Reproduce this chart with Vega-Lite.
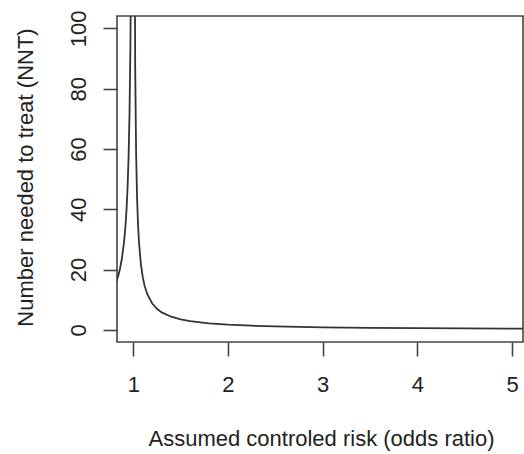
{
  "$schema": "https://vega.github.io/schema/vega-lite/v6.json",
  "autosize": "none",
  "width": 406,
  "height": 326,
  "padding": {"left": 117, "top": 16, "right": 1, "bottom": 112},
  "background": "white",
  "config": {
    "font": "Liberation Sans",
    "view": {"stroke": "#444", "strokeWidth": 1.6},
    "axis": {
      "grid": false,
      "domain": false,
      "tickColor": "#444",
      "tickWidth": 1.6,
      "tickSize": 14,
      "labelFont": "Liberation Sans",
      "labelFontSize": 22,
      "labelColor": "#222",
      "titleFont": "Liberation Sans",
      "titleFontSize": 22,
      "titleFontWeight": "normal",
      "titleColor": "#222"
    }
  },
  "data": {
    "values": [
      {"or": 0.80, "nnt": 14.25},
      {"or": 0.82, "nnt": 15.83},
      {"or": 0.84, "nnt": 17.81},
      {"or": 0.86, "nnt": 20.36},
      {"or": 0.88, "nnt": 23.75},
      {"or": 0.90, "nnt": 28.5},
      {"or": 0.91, "nnt": 31.67},
      {"or": 0.92, "nnt": 35.63},
      {"or": 0.93, "nnt": 40.71},
      {"or": 0.94, "nnt": 47.5},
      {"or": 0.95, "nnt": 57.0},
      {"or": 0.96, "nnt": 71.25},
      {"or": 0.97, "nnt": 95.0},
      {"or": 0.98, "nnt": 142.5},
      {"or": 0.99, "nnt": 285},
      {"or": 1.01, "nnt": 175},
      {"or": 1.02, "nnt": 87.5},
      {"or": 1.03, "nnt": 58.33},
      {"or": 1.04, "nnt": 43.75},
      {"or": 1.05, "nnt": 35},
      {"or": 1.06, "nnt": 29.17},
      {"or": 1.08, "nnt": 21.88},
      {"or": 1.10, "nnt": 17.5},
      {"or": 1.12, "nnt": 14.58},
      {"or": 1.15, "nnt": 11.67},
      {"or": 1.20, "nnt": 8.75},
      {"or": 1.25, "nnt": 7.0},
      {"or": 1.30, "nnt": 5.83},
      {"or": 1.40, "nnt": 4.38},
      {"or": 1.50, "nnt": 3.5},
      {"or": 1.60, "nnt": 2.92},
      {"or": 1.80, "nnt": 2.19},
      {"or": 2.00, "nnt": 1.75},
      {"or": 2.25, "nnt": 1.4},
      {"or": 2.50, "nnt": 1.17},
      {"or": 3.00, "nnt": 0.875},
      {"or": 3.50, "nnt": 0.70},
      {"or": 4.00, "nnt": 0.583},
      {"or": 4.50, "nnt": 0.5},
      {"or": 5.00, "nnt": 0.4375},
      {"or": 5.20, "nnt": 0.417}
    ]
  },
  "mark": {"type": "line", "clip": true, "color": "#333", "strokeWidth": 1.8, "interpolate": "linear"},
  "encoding": {
    "x": {
      "field": "or",
      "type": "quantitative",
      "scale": {"domain": [0.828, 5.115], "nice": false, "zero": false},
      "axis": {
        "values": [1, 2, 3, 4, 5],
        "labelPadding": 18,
        "title": "Assumed controled risk (odds ratio)",
        "titleBaseline": "alphabetic",
        "titleY": 103,
        "titleX": 204
      }
    },
    "y": {
      "field": "nnt",
      "type": "quantitative",
      "scale": {"domain": [-4, 104.1], "nice": false, "zero": false},
      "axis": {
        "values": [0, 20, 40, 60, 80, 100],
        "labelAngle": -90,
        "labelAlign": "center",
        "labelBaseline": "alphabetic",
        "labelPadding": 18,
        "title": "Number needed to treat (NNT)",
        "titleBaseline": "alphabetic",
        "titleAngle": -90,
        "titleX": -85,
        "titleY": 161
      }
    }
  }
}
